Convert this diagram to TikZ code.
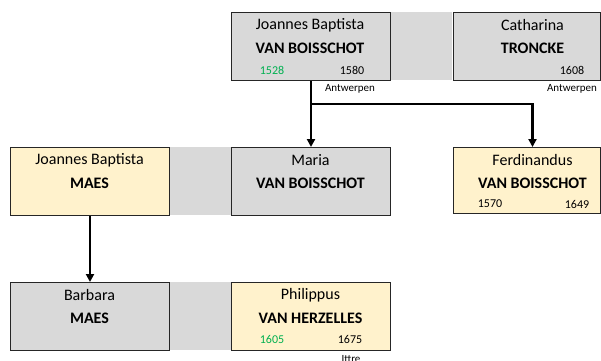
\documentclass[tikz,border=0pt]{standalone}
\usepackage{fontspec}
\setmainfont{Carlito}
\usetikzlibrary{arrows.meta}
\definecolor{boxgray}{HTML}{D9D9D9}
\definecolor{boxyellow}{HTML}{FFF2CC}
\definecolor{yeargreen}{HTML}{00B050}
\tikzset{
  x=1pt, y=-1pt,
  person/.style={draw=black!85, line width=1.1pt, anchor=north west, inner sep=0pt},
  grayperson/.style={person, fill=boxgray, minimum width=159pt, minimum height=68pt},
  yellowperson/.style={person, fill=boxyellow, minimum width=159pt, minimum height=68pt},
  band/.style={fill=boxgray, draw=none, anchor=north west, inner sep=0pt, minimum width=62pt, minimum height=68pt},
  given/.style={font=\fontsize{16}{18}\selectfont, inner sep=0pt},
  family/.style={font=\fontsize{16}{18}\selectfont\bfseries, inner sep=0pt},
  year/.style={font=\fontsize{12}{14}\selectfont, inner sep=0pt},
  birth/.style={year, text=yeargreen},
  place/.style={font=\fontsize{11}{13}\selectfont, inner sep=0pt},
  link/.style={line width=2.2pt, black},
  linkarrow/.style={link, -{Triangle[length=8pt,width=8pt]}}
}
\begin{document}
\begin{tikzpicture}
\useasboundingbox (0,0) rectangle (601,360);
\fill[white] (0,0) rectangle (601,360);
\begin{scope}
\clip (0,0) rectangle (601,360);
% bands
\node[band] (b1) at (390,12) {};
\node[band] (b2) at (170,147) {};
\node[band] (b3) at (170,282) {};
% top row
\node[grayperson] (jbvb) at (231,12) {};
\node[given] (jbvb1) at (310,25) {Joannes Baptista};
\node[family] (jbvb2) at (310,48) {VAN BOISSCHOT};
\node[birth] (jbvb3) at (272,70) {1528};
\node[year] (jbvb4) at (352,70) {1580};
\node[place] (jbvb5) at (350,89) {Antwerpen};

\node[grayperson, minimum width=147pt] (ct) at (453,12) {};
\node[given] (ct1) at (532.5,25) {Catharina};
\node[family] (ct2) at (532.5,48) {TRONCKE};
\node[year] (ct4) at (572,70) {1608};
\node[place] (ct5) at (572,89) {Antwerpen};

% middle row
\node[yellowperson] (jbm) at (10,147) {};
\node[given] (jbm1) at (89.5,160) {Joannes Baptista};
\node[family] (jbm2) at (89.5,183) {MAES};

\node[grayperson] (mvb) at (231,147) {};
\node[given] (mvb1) at (310.5,160) {Maria};
\node[family] (mvb2) at (310.5,183) {VAN BOISSCHOT};

\node[yellowperson, minimum width=147pt, minimum height=66pt] (fvb) at (453,147) {};
\node[given] (fvb1) at (532.5,160) {Ferdinandus};
\node[family] (fvb2) at (532.5,183) {VAN BOISSCHOT};
\node[year] (fvb3) at (490,204) {1570};
\node[year] (fvb4) at (577,204) {1649};

% bottom row
\node[grayperson] (bm) at (10,282) {};
\node[given] (bm1) at (89.5,295) {Barbara};
\node[family] (bm2) at (89.5,318) {MAES};

\node[yellowperson] (pvh) at (231,282) {};
\node[given] (pvh1) at (310.5,295) {Philippus};
\node[family] (pvh2) at (310.5,318) {VAN HERZELLES};
\node[birth] (pvh3) at (272,339) {1605};
\node[year] (pvh4) at (350,339) {1675};
\node[place] (pvh5) at (351,359) {Ittre};
\end{scope}

% connectors
\coordinate (split) at (311,104);
\draw[linkarrow] (jbvb.south -| split) -- (mvb.north -| split);
\draw[linkarrow] (split) -- (split -| fvb1) -- (fvb.north -| fvb1);
\draw[linkarrow] (jbm.south -| 90,0) -- (bm.north -| 90,0);
\end{tikzpicture}
\end{document}
